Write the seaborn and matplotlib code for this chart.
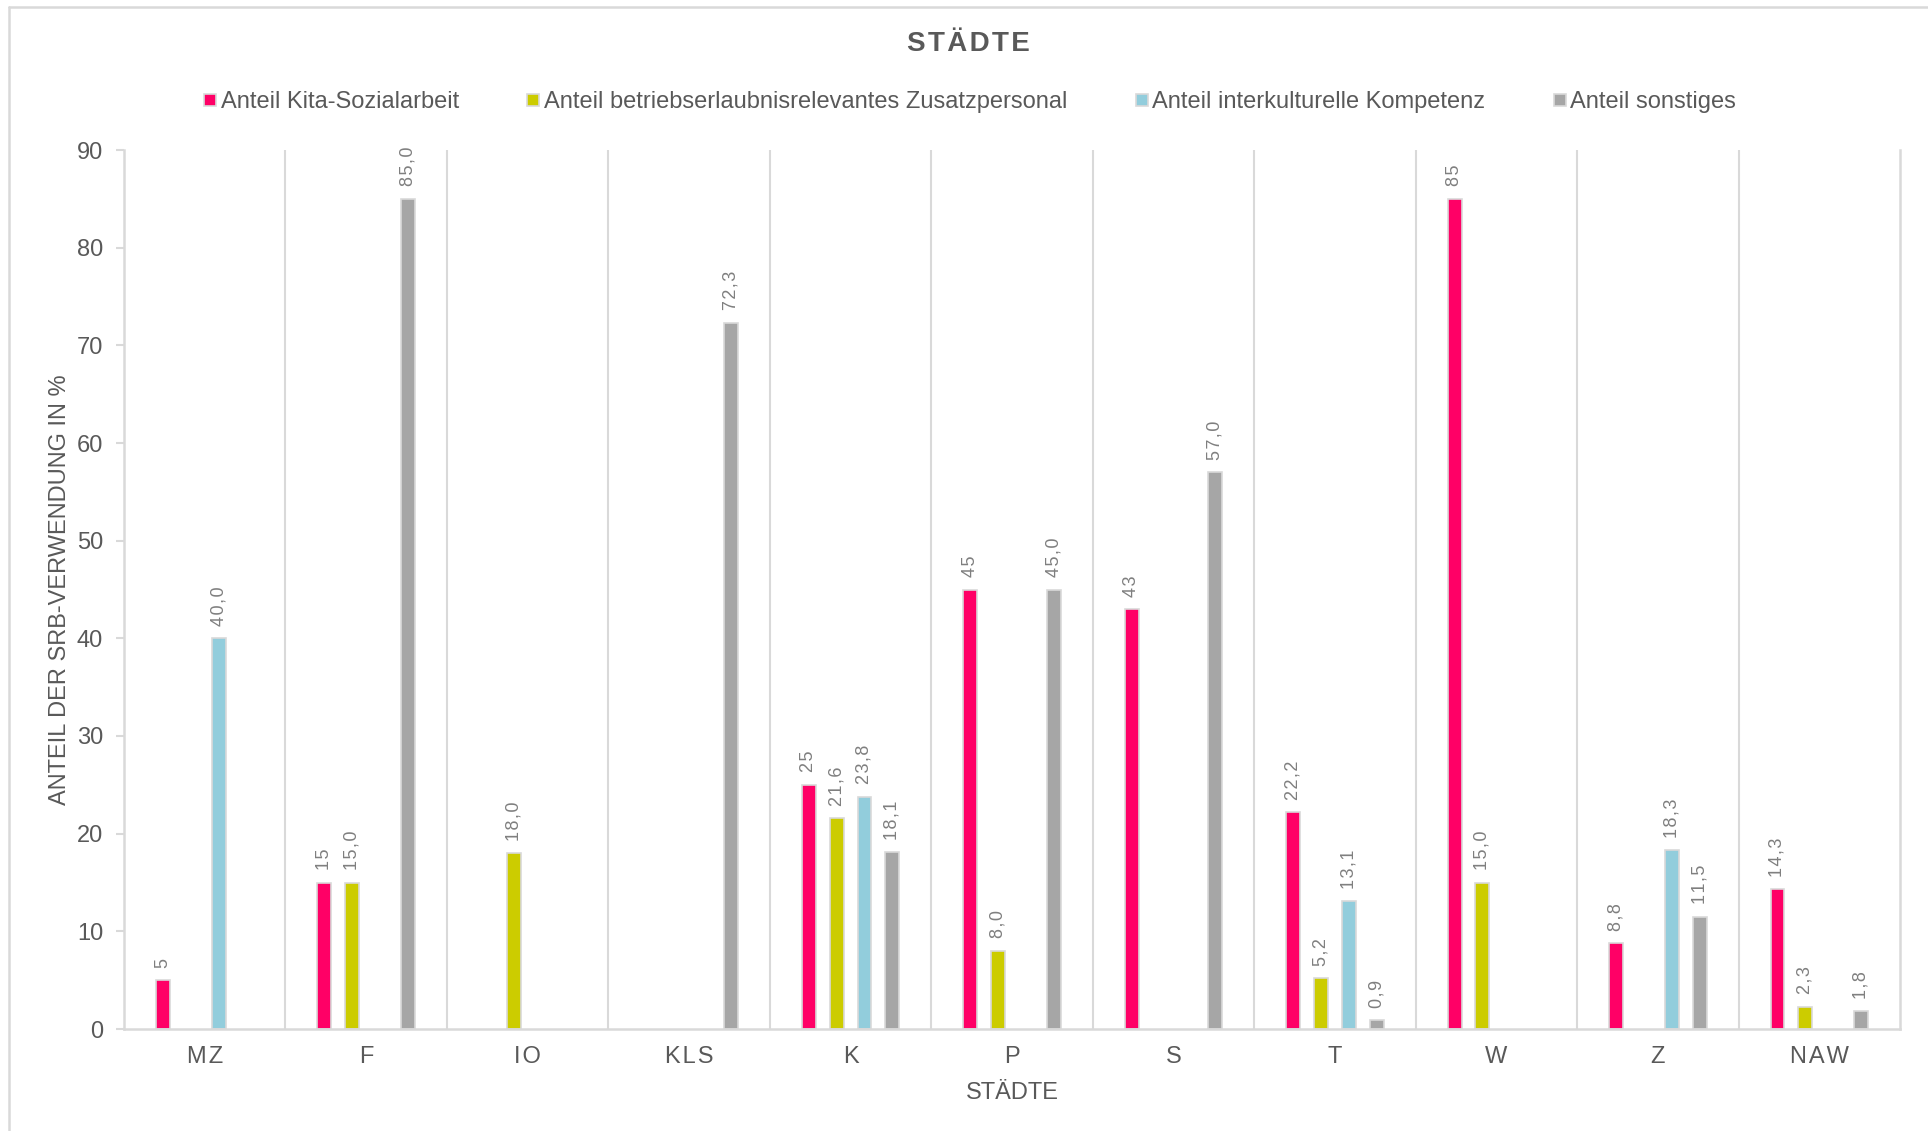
import numpy as np
import pandas as pd
import matplotlib
matplotlib.use("Agg")
import matplotlib.pyplot as plt
from matplotlib.lines import Line2D
import seaborn as sns

# ---- data -------------------------------------------------------------
cities = ["MZ", "F", "IO", "KLS", "K", "P", "S", "T", "W", "Z", "NAW"]
series_names = [
    "Anteil Kita-Sozialarbeit",
    "Anteil betriebserlaubnisrelevantes Zusatzpersonal",
    "Anteil interkulturelle Kompetenz",
    "Anteil sonstiges",
]
kita = [5, 15, np.nan, np.nan, 25, 45, 43, 22.2, 85, 8.8, 14.3]
zusatz = [np.nan, 15.0, 18.0, np.nan, 21.6, 8.0, np.nan, 5.2, 15.0, np.nan, 2.3]
interkult = [40.0, np.nan, np.nan, np.nan, 23.8, np.nan, np.nan, 13.1, np.nan, 18.3, np.nan]
sonstiges = [np.nan, 85.0, np.nan, 72.3, 18.1, 45.0, 57.0, 0.9, np.nan, 11.5, 1.8]
yticks = [0, 10, 20, 30, 40, 50, 60, 70, 80, 90]

colors = ["#FF0066", "#CCCC00", "#92CDDC", "#A6A6A6"]
edge = "#D9D9D9"
text_col = "#595959"
label_col = "#7F7F7F"

df = pd.DataFrame({
    "Stadt": cities * 4,
    "Reihe": np.repeat(series_names, len(cities)),
    "Wert": kita + zusatz + interkult + sonstiges,
})

# ---- style ------------------------------------------------------------
sns.set_theme(style="white")
plt.rcParams["font.family"] = ["Liberation Sans", "DejaVu Sans"]

HS = "\u200a"  # hair space for slightly tracked lettering


def spaced(s):
    return HS.join(s)


fig = plt.figure(figsize=(19.28, 11.31), dpi=100)
ax = fig.add_axes([124 / 1928, 1 - 1029 / 1131, (1900 - 124) / 1928, (1029 - 150) / 1131])

sns.barplot(
    data=df, x="Stadt", y="Wert", hue="Reihe",
    order=cities, hue_order=series_names, palette=colors, saturation=1,
    width=0.69, gap=0.5, errorbar=None,
    edgecolor=edge, linewidth=1.2, ax=ax, legend=False,
)


# value labels: first series in general format, the others with one decimal
def fmt_general(v):
    return f"{v:g}".replace(".", ",")


def fmt_one(v):
    return f"{v:.1f}".replace(".", ",")


for i, cont in enumerate(ax.containers):
    f = fmt_general if i == 0 else fmt_one
    labels = [spaced(f(b.get_height())) if np.isfinite(b.get_height()) else "" for b in cont]
    ax.bar_label(cont, labels=labels, rotation=90, padding=9,
                 fontsize=13, color=label_col)

# axes
ax.set_xlim(-0.5, len(cities) - 0.5)
ax.set_ylim(0, 90)
ax.set_yticks(yticks)
ax.set_yticklabels([str(t) for t in yticks])
ax.set_xticks(range(len(cities)))
ax.set_xticklabels([spaced(c) for c in cities])
for x in np.arange(0.5, len(cities) - 0.5, 1.0):
    ax.axvline(x, color=edge, lw=1.5, zorder=0)

ax.spines["top"].set_visible(False)
for side in ["left", "bottom", "right"]:
    ax.spines[side].set_color(edge)
    ax.spines[side].set_linewidth(1.8)

ax.tick_params(axis="y", which="major", length=6, width=1.5, color=edge,
               labelsize=17, labelcolor=text_col, pad=9, left=True)
ax.tick_params(axis="x", length=0, labelsize=17, labelcolor=text_col, pad=12)

ax.set_xlabel("STÄDTE", fontsize=17, color=text_col, labelpad=10)
ax.set_ylabel("ANTEIL DER SRB-VERWENDUNG IN %", fontsize=17, color=text_col, labelpad=4)

# title and legend
fig.text(968 / 1928, 1 - 44 / 1131, spaced("STÄDTE"), ha="center", va="center",
         fontsize=20, fontweight="bold", color=text_col)

handles = [Line2D([], [], marker="s", ls="", markersize=8, markerfacecolor=c,
                  markeredgecolor=edge, markeredgewidth=1.2) for c in colors]
fig.legend(handles, series_names, loc="center", bbox_to_anchor=(970 / 1928, 1 - 102 / 1131),
           ncol=4, frameon=False, fontsize=17, labelcolor=text_col,
           handlelength=0.5, handletextpad=0.2, columnspacing=2.9)

# outer frame lines
fig.add_artist(Line2D([9 / 1928, 9 / 1928], [0, 1 - 7 / 1131], transform=fig.transFigure,
                      color=edge, lw=1.8))
fig.add_artist(Line2D([9 / 1928, 1], [1 - 7 / 1131, 1 - 7 / 1131], transform=fig.transFigure,
                      color=edge, lw=1.8))

fig.savefig("out.png", dpi=100, facecolor="white")
